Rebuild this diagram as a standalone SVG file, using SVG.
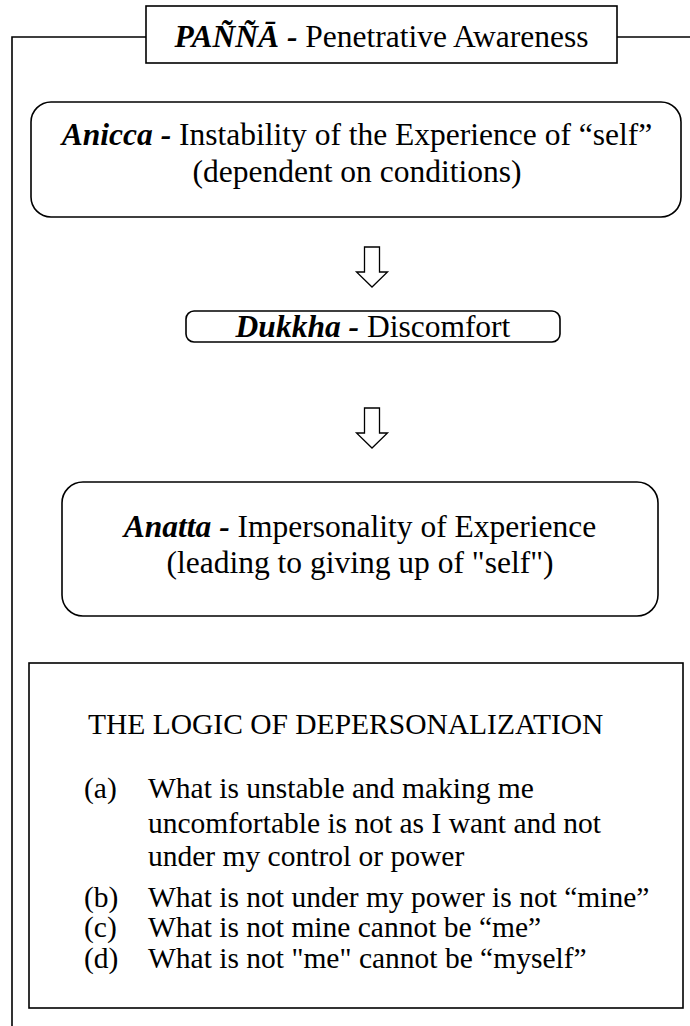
<svg xmlns="http://www.w3.org/2000/svg" width="690" height="1026" viewBox="0 0 690 1026">
  <style>
    .line { fill: none; stroke: #000; stroke-width: 1.6; }
    .box { fill: #fff; stroke: #000; stroke-width: 1.6; }
    .t { font-family: "Liberation Serif", "Times New Roman", serif; font-size: 31.5px; fill: #000; }
    .s { font-size: 29.5px; }
    .key { font-weight: bold; font-style: italic; }
    .arrow { fill: #fff; stroke: #000; stroke-width: 1.3; stroke-linejoin: miter; }
  </style>
  <defs>
    <!-- hollow downward block arrow, tip at origin -->
    <path id="downArrow" class="arrow" d="M -7.5 -40 L 7.5 -40 L 7.5 -15 L 15.5 -15 L 0 0 L -15.5 -15 L -7.5 -15 Z"/>
  </defs>

  <!-- outer bracket frame running from the title -->
  <g id="frame">
    <path class="line" d="M 146 37 L 12 37 L 12 1026"/>
    <path class="line" d="M 617 37 L 690 37"/>
  </g>

  <g id="title">
    <rect class="box" x="146" y="6" width="471" height="57"/>
    <text class="t" font-size="32" x="381.5" y="47" text-anchor="middle"><tspan class="key">PAÑÑĀ -</tspan> Penetrative Awareness</text>
  </g>

  <g id="anicca">
    <rect class="box" x="31" y="102" width="650" height="115" rx="20" ry="20"/>
    <text class="t" x="357" y="145" text-anchor="middle"><tspan class="key">Anicca -</tspan> Instability of the Experience of “self”</text>
    <text class="t" x="357" y="182" text-anchor="middle">(dependent on conditions)</text>
  </g>

  <g id="dukkha">
    <rect class="box" x="186" y="311" width="374" height="31" rx="8" ry="8"/>
    <text class="t" x="373" y="337" text-anchor="middle"><tspan class="key">Dukkha -</tspan> Discomfort</text>
  </g>

  <g id="anatta">
    <rect class="box" x="62" y="482" width="596" height="134" rx="21" ry="21"/>
    <text class="t" x="360" y="537" text-anchor="middle"><tspan class="key">Anatta -</tspan> Impersonality of Experience</text>
    <text class="t" x="360" y="573" text-anchor="middle">(leading to giving up of "self")</text>
  </g>

  <g id="logic">
    <rect class="box" x="29" y="663" width="654" height="345"/>
    <text class="t s" x="88" y="734">THE LOGIC OF DEPERSONALIZATION</text>
    <text class="t s" x="84" y="798">(a)</text>
    <text class="t s" x="148" y="798">What is unstable and making me</text>
    <text class="t s" x="148" y="833">uncomfortable is not as I want and not</text>
    <text class="t s" x="148" y="866">under my control or power</text>
    <text class="t s" x="84" y="907">(b)</text>
    <text class="t s" x="148" y="907">What is not under my power is not “mine”</text>
    <text class="t s" x="84" y="937">(c)</text>
    <text class="t s" x="148" y="937">What is not mine cannot be “me”</text>
    <text class="t s" x="84" y="968">(d)</text>
    <text class="t s" x="148" y="968">What is not "me" cannot be “myself”</text>
  </g>

  <g id="connectors">
    <use href="#downArrow" x="372" y="287"/>
    <use href="#downArrow" x="372" y="448"/>
  </g>
</svg>
